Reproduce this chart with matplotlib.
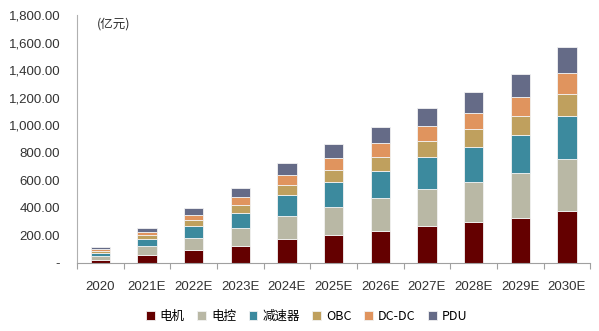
import numpy as np
import matplotlib
matplotlib.use("Agg")
import matplotlib.pyplot as plt
from matplotlib.ticker import FuncFormatter

plt.rcParams['font.family'] = ['Noto Sans CJK SC', 'DejaVu Sans']

# data (亿元)
years = ['2020', '2021E', '2022E', '2023E', '2024E', '2025E',
         '2026E', '2027E', '2028E', '2029E', '2030E']
motor = [24, 60, 92, 126, 174, 204, 235, 269, 295, 329, 377]
control = [29, 61, 92, 128, 167, 203, 234, 268, 293, 322, 376]
reducer = [22, 51, 82, 111, 150, 180, 201, 232, 256, 280, 316]
obc = [10, 29, 44, 56, 73, 87, 102, 114, 126, 138, 155]
dcdc = [14, 24, 38, 56, 75, 89, 99, 111, 121, 138, 157]
pdu = [17, 31, 49, 65, 85, 102, 114, 133, 148, 163, 184]

series = [('电机', motor, '#640000'),
          ('电控', control, '#B9B8A5'),
          ('减速器', reducer, '#3C8A9E'),
          ('OBC', obc, '#BFA05E'),
          ('DC-DC', dcdc, '#E0945E'),
          ('PDU', pdu, '#656B87')]

fig = plt.figure(figsize=(5.99, 3.31), dpi=100)
ax = fig.add_axes([0.1285, 0.2054, 0.857, 0.7493])

x = np.arange(len(years))
bottom = np.zeros(len(years))
for name, vals, color in series:
    ax.bar(x, vals, 0.41, bottom=bottom, color=color, label=name,
           edgecolor='#f2f2f2', linewidth=0.6)
    bottom += np.array(vals)

ax.set_xlim(-0.5, len(years) - 0.5)
ax.set_ylim(0, 1800)
ax.set_yticks(np.arange(0, 1801, 200))
ax.yaxis.set_major_formatter(FuncFormatter(lambda v, p: '-' if v == 0 else f'{v:,.2f}'))

ax.set_xticks(x)
ax.set_xticklabels(years)
ax.set_xticks(np.arange(-0.5, len(years)), minor=True)
ax.tick_params(axis='x', which='major', length=0, pad=13, labelsize=9.5, labelcolor='#333333')
ax.tick_params(axis='x', which='minor', length=4, color='#a0a0a0', width=0.8)
ax.tick_params(axis='y', length=0, pad=12, labelsize=9.5, labelcolor='#333333')
for lab in ax.get_xticklabels() + ax.get_yticklabels():
    lab.set_family(['Liberation Sans', 'DejaVu Sans'])

for s in ['top', 'right']:
    ax.spines[s].set_visible(False)
ax.spines['left'].set_color('#b0b0b0')
ax.spines['bottom'].set_color('#a0a0a0')

ax.text(0.038, 0.962, '(亿元)', transform=ax.transAxes, fontsize=9,
        color='#333333', va='center', ha='left')

fig.legend(loc='center', bbox_to_anchor=(0.512, 0.045), ncol=6, frameon=False,
           fontsize=9, handlelength=0.7, handleheight=0.7, handletextpad=0.4,
           columnspacing=1.0)

fig.savefig('out.png', dpi=100)
